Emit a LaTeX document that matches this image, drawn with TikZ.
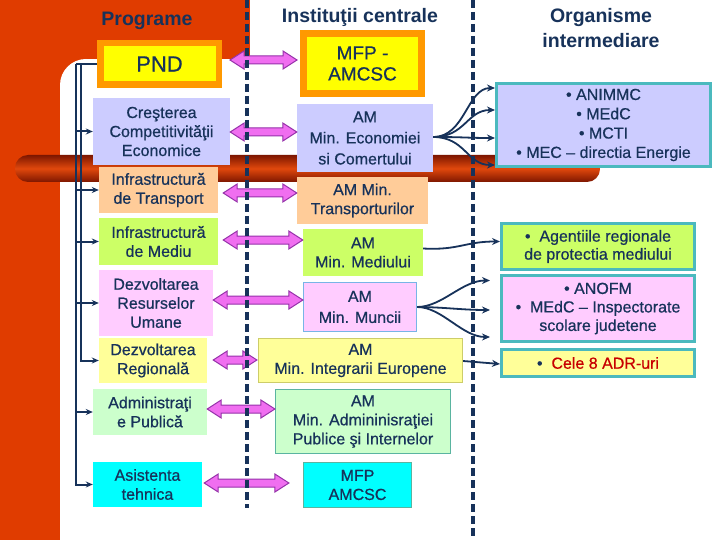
\documentclass[tikz,border=0pt]{standalone}
\usepackage{fontspec}
\setmainfont{Liberation Sans}
\newfontfamily\bxfont{Liberation Sans}[FakeBold=0.6]
\usetikzlibrary{calc,arrows.meta}
\definecolor{navy}{RGB}{23,50,90}
\definecolor{redbg}{RGB}{224,60,0}
\definecolor{tubedark}{RGB}{125,22,0}
\definecolor{tubemid}{RGB}{225,72,12}
\definecolor{orng}{RGB}{255,153,0}
\definecolor{yel}{RGB}{255,255,0}
\definecolor{lav}{RGB}{204,204,255}
\definecolor{peach}{RGB}{255,204,153}
\definecolor{grn}{RGB}{204,255,102}
\definecolor{pnk}{RGB}{255,204,255}
\definecolor{lyel}{RGB}{255,255,153}
\definecolor{lgrn}{RGB}{204,255,204}
\definecolor{cyn}{RGB}{0,255,255}
\definecolor{teal}{RGB}{75,185,190}
\definecolor{lblue}{RGB}{120,180,230}
\definecolor{khaki}{RGB}{205,205,105}
\definecolor{tgrn}{RGB}{90,180,160}
\definecolor{pinkf}{RGB}{240,110,240}
\definecolor{pinkd}{RGB}{150,50,170}
\definecolor{redtxt}{RGB}{200,0,0}
\newcommand\parr[5]{%
  \coordinate (yr) at (0,#3);
  \coordinate (L0) at ([xshift=#4pt]#1.east);
  \coordinate (R0) at ([xshift=#5pt]#2.west);
  \coordinate (L) at (L0 |- yr);
  \coordinate (R) at (R0 |- yr);
  \filldraw[pinkarr] (L) -- ([shift={(14,-9)}]L) -- ([shift={(14,-4)}]L) -- ([shift={(-14,-4)}]R) -- ([shift={(-14,-9)}]R) -- (R) -- ([shift={(-14,9)}]R) -- ([shift={(-14,4)}]R) -- ([shift={(14,4)}]L) -- ([shift={(14,9)}]L) -- cycle;}
\begin{document}
\begin{tikzpicture}[x=1pt,y=-1pt,
  every node/.style={inner sep=0pt, align=center, text=navy, font=\bxfont\fontsize{16}{19}\selectfont},
  title/.style={font=\rmfamily\bfseries\fontsize{19.5}{24}\selectfont},
  pinkarr/.style={fill=pinkf, draw=pinkd, line width=1pt, line join=miter},
  tree/.style={draw=navy, line width=2pt},
  treearr/.style={tree, -{Stealth[length=7pt,width=6pt]}},
  carr/.style={draw=navy, line width=1.8pt, -{Stealth[length=8pt,width=7pt]}},
  dashln/.style={draw=navy, line width=3.5pt, dash pattern=on 8pt off 4pt},
  obox/.style={draw=teal, line width=3pt},
]
\useasboundingbox (0,0) rectangle (720,540);
\fill[white] (0,0) rectangle (720,540);
% background
\fill[redbg] (0,0) rectangle (250,59);
\fill[redbg] (0,0) rectangle (60,540);
\fill[redbg] (60,59) rectangle (86,85);
\fill[white] (86,85) circle[radius=26];
\shade[top color=tubedark, bottom color=tubedark, middle color=tubemid, rounded corners=13pt] (15,155) rectangle (600,182);

% titles
\node[title] (t1) at (147,21) {Programe};
\node[title] (t2) at (360,17) {Instituţii centrale};
\node[title, font=\rmfamily\bfseries\fontsize{19.5}{25}\selectfont] (t3) at (601,28) {Organisme\\intermediare};

% left column
\node[fill=yel, draw=orng, line width=6.5pt, minimum width=118.5, minimum height=41.5, font=\bxfont\fontsize{22}{24}\selectfont] (pnd) at (159.5,64) {PND};
\node[fill=lav, minimum width=137, minimum height=67] (cre) at (161.5,131.5) {Creşterea\\Competitivităţii\\Economice};
\node[fill=peach, minimum width=119, minimum height=46] (trp) at (158.5,190) {Infrastructură\\de Transport};
\node[fill=grn, minimum width=119, minimum height=47] (med) at (158.5,241.5) {Infrastructură\\de Mediu};
\node[fill=pnk, minimum width=114, minimum height=66] (dru) at (156,303) {Dezvoltarea\\Resurselor\\Umane};
\node[fill=lyel, minimum width=108, minimum height=45] (dr) at (153,360.5) {Dezvoltarea\\Regională};
\node[fill=lgrn, minimum width=114, minimum height=46] (ap) at (150,412) {Administraţi\\e Publică};
\node[fill=cyn, minimum width=109, minimum height=45] (at) at (147.5,484.5) {Asistenta\\tehnica};

% middle column
\node[fill=yel, draw=orng, line width=7pt, minimum width=118, minimum height=60, font=\bxfont\fontsize{19}{21}\selectfont] (mfp1) at (362.5,63.5) {MFP -\\AMCSC};
\node[fill=lav, minimum width=136, minimum height=68, font=\bxfont\fontsize{16}{21}\selectfont] (eco) at (365,138) {AM\\Min. Economiei\\si Comertului};
\node[fill=peach, minimum width=131, minimum height=47] (trans) at (362.5,200.5) {AM Min.\\Transporturilor};
\node[fill=grn, minimum width=120, minimum height=47] (medm) at (363,252.5) {AM\\Min. Mediului};
\node[fill=pnk, draw=lblue, line width=1.2pt, minimum width=113, minimum height=49, font=\bxfont\fontsize{16}{21}\selectfont] (mun) at (360,307) {AM\\Min. Muncii};
\node[fill=lyel, draw=khaki, line width=1.2pt, minimum width=204, minimum height=44] (int) at (360.5,360.5) {AM\\Min. Integrarii Europene};
\node[fill=lgrn, draw=tgrn, line width=1.2pt, minimum width=175, minimum height=64] (adm) at (363,421.5) {AM\\Min. Admininisraţiei\\Publice şi Internelor};
\node[fill=cyn, draw=tgrn, line width=1.2pt, minimum width=108, minimum height=45] (mfp2) at (357.5,485) {MFP\\AMCSC};

% right column
\node[fill=lav, obox, minimum width=214, minimum height=83, font=\bxfont\fontsize{16}{19.3}\selectfont] (org1) at (603.5,125) {• ANIMMC\\• MEdC\\• MCTI\\• MEC – directia Energie};
\node[fill=grn, obox, minimum width=193, minimum height=46, font=\bxfont\fontsize{16}{18}\selectfont] (org2) at (598,246.5) {•\ \ Agentiile regionale\\de protectia mediului};
\node[fill=pnk, obox, minimum width=193, minimum height=66, font=\bxfont\fontsize{16}{18.5}\selectfont] (org3) at (598,308.5) {• ANOFM\\•\ \ MEdC – Inspectorate\\scolare judetene};
\node[fill=lyel, obox, minimum width=193, minimum height=27] (org4) at (598,363) {•\ \ \textcolor{redtxt}{Cele 8 ADR-uri}};

% tree
\coordinate (b1) at (76,64);
\coordinate (b2) at (81,64);
\draw[tree] (pnd.west) -- (b1);
\draw[treearr] (b1) |- (at.west);
\draw[treearr] (b2) |- (dr.west);
\draw[treearr] (b1 |- cre.west) -- (cre.west);
\draw[treearr] (b1 |- trp.west) -- (trp.west);
\draw[treearr] (b1 |- med.west) -- (med.west);
\draw[treearr] (b1 |- dru.west) -- (dru.west);
\draw[treearr] (b1 |- ap.west) -- (ap.west);

% pink double arrows
\parr{pnd}{mfp1}{60}{8}{-3}
\parr{cre}{eco}{132}{0}{0}
\parr{trp}{trans}{193}{5}{0}
\parr{med}{medm}{240}{5}{0}
\parr{dru}{mun}{300}{0}{0}
\parr{dr}{int}{360}{6}{-1}
\parr{ap}{adm}{409}{0}{0}
\parr{at}{mfp2}{483}{2}{-14}

% dashed separators
\coordinate (d1a) at (247,0);
\coordinate (d1b) at (247,508);
\coordinate (d2a) at (473,0);
\coordinate (d2b) at (473,540);
\draw[dashln] (d1a) -- (d1b);
\draw[dashln] (d2a) -- (d2b);

% curved arrows
\coordinate (e1) at ($(org1.west)+(0,-37)$);
\coordinate (e2) at ($(org1.west)+(0,-15)$);
\coordinate (e3) at ($(org1.west)+(0,13)$);
\coordinate (e4) at ($(org1.west)+(0,40)$);
\coordinate (eo) at ($(eco.east)+(0,-1)$);
\draw[carr] (eo) .. controls +(32,0) and +(-28,0) .. (e1);
\draw[carr] (eo) .. controls +(32,0) and +(-28,0) .. (e2);
\draw[carr] (eo) .. controls +(32,0) and +(-28,0) .. (e3);
\draw[carr] (eo) .. controls +(32,0) and +(-28,0) .. (e4);
\coordinate (mo) at ($(medm.east)+(0,-4)$);
\coordinate (me) at ($(org2.west)+(0,-5)$);
\draw[carr] (mo) .. controls +(35,2) and +(-35,0) .. (me);
\coordinate (u1) at ($(org3.west)+(-10,-28)$);
\coordinate (u2) at ($(org3.west)+(-10,1.5)$);
\coordinate (u3) at ($(org3.west)+(-10,28.5)$);
\draw[carr] (mun.east) .. controls +(25,0) and +(-28,0) .. (u1);
\draw[carr] (mun.east) .. controls +(25,0) and +(-28,0) .. (u2);
\draw[carr] (mun.east) .. controls +(25,0) and +(-28,0) .. (u3);
\coordinate (io) at ($(int.east)+(0,0.5)$);
\coordinate (ie) at ($(org4.west)+(0,1)$);
\draw[carr] (io) -- (ie);
\end{tikzpicture}
\end{document}
